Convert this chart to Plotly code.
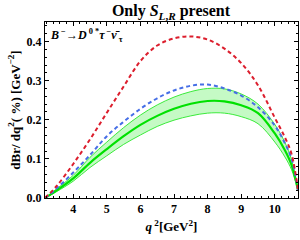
import plotly.graph_objects as go

q2 = [3.16, 3.5, 4.0, 4.5, 5.0, 5.5, 6.0, 6.5, 7.0, 7.5, 8.0, 8.5, 9.0, 9.5, 10.0, 10.3, 10.5, 10.69]
red = [0.0, 0.03, 0.087, 0.15, 0.218, 0.285, 0.35, 0.39, 0.408, 0.413, 0.405, 0.382, 0.345, 0.288, 0.205, 0.155, 0.112, 0.02]
blue = [0.0, 0.024, 0.065, 0.11, 0.158, 0.195, 0.228, 0.255, 0.275, 0.287, 0.29, 0.28, 0.262, 0.232, 0.185, 0.14, 0.1, 0.02]
green = [0.0, 0.019, 0.05, 0.09, 0.125, 0.158, 0.187, 0.21, 0.228, 0.241, 0.248, 0.247, 0.237, 0.217, 0.165, 0.122, 0.084, 0.02]
green_hi = [0.0, 0.023, 0.058, 0.104, 0.143, 0.18, 0.212, 0.238, 0.258, 0.272, 0.28, 0.279, 0.266, 0.24, 0.188, 0.142, 0.097, 0.02]
green_lo = [0.0, 0.016, 0.043, 0.078, 0.108, 0.137, 0.161, 0.183, 0.199, 0.21, 0.217, 0.217, 0.208, 0.19, 0.143, 0.105, 0.072, 0.02]
x_ticks = [4, 5, 6, 7, 8, 9, 10]
y_ticks = [0.0, 0.1, 0.2, 0.3, 0.4]

fig = go.Figure()
fig.add_trace(go.Scatter(x=q2, y=green_lo, mode="lines", line=dict(color="rgb(60,235,60)", width=1, shape="spline"), showlegend=False))
fig.add_trace(go.Scatter(x=q2, y=green_hi, mode="lines", fill="tonexty", fillcolor="rgba(150,245,150,0.55)",
                         line=dict(color="rgb(60,235,60)", width=1, shape="spline"), showlegend=False))
fig.add_trace(go.Scatter(x=q2, y=green, mode="lines", line=dict(color="rgb(0,225,0)", width=2.2, shape="spline"), showlegend=False))
fig.add_trace(go.Scatter(x=q2, y=blue, mode="lines", line=dict(color="rgb(70,110,230)", width=2, dash="4px,3px", shape="spline"), showlegend=False))
fig.add_trace(go.Scatter(x=q2, y=red, mode="lines", line=dict(color="rgb(220,30,45)", width=2, dash="4px,3px", shape="spline"), showlegend=False))

font = "Liberation Serif"
axis_common = dict(showgrid=False, zeroline=False, showline=True, linecolor="black", linewidth=1,
                   mirror="ticks", ticks="inside", ticklen=4, tickcolor="black",
                   tickfont=dict(family=font, size=12, color="black"))

fig.update_layout(
    width=300, height=240,
    margin=dict(l=45, r=2, t=22, b=42),
    paper_bgcolor="white", plot_bgcolor="white",
    title=dict(text="<b>Only <i>S</i><sub><i>L</i>,<i>R</i></sub> present</b>", x=0.57, xanchor="center", y=0.955, yanchor="middle",
               font=dict(family=font, size=16, color="black")),
    xaxis=dict(range=[3.16, 10.69], tickvals=x_ticks, ticktext=["<b>%d</b>" % v for v in x_ticks],
               minor=dict(dtick=0.2, tick0=0, ticks="inside", ticklen=2, tickcolor="black"),
               title=dict(text="<b><i>q</i><sup> 2</sup>[GeV<sup>2</sup>]</b>", standoff=6, font=dict(family=font, size=13, color="black")),
               **axis_common),
    yaxis=dict(range=[0, 0.45], tickvals=y_ticks, ticktext=["<b>%.1f</b>" % v for v in y_ticks],
               minor=dict(dtick=0.02, tick0=0, ticks="inside", ticklen=2, tickcolor="black"),
               title=dict(text="<b>dBr/ dq<sup>2</sup>( %) [GeV<sup>−2</sup>]</b>", standoff=3, font=dict(family=font, size=13, color="black")),
               **axis_common),
    annotations=[dict(x=0.01, y=0.985, xref="paper", yref="paper", xanchor="left", yanchor="top", showarrow=False,
                      text="<b><i>B</i><sup> −</sup>→<i>D</i><sup> 0 *</sup><i>τ</i><sup> −</sup><i>ν̄</i><sub> τ</sub></b>",
                      font=dict(family=font, size=12, color="black"))],
)

fig.write_html("out.html", config={"displayModeBar": False},
               post_script="document.body.style.margin='0';document.body.style.overflow='hidden';")
